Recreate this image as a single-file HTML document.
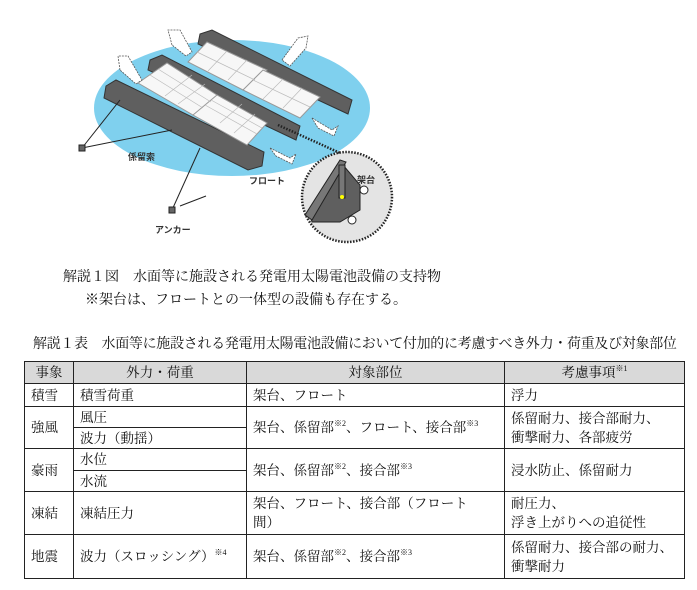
<!DOCTYPE html>
<html><head><meta charset="utf-8"><style>
body{margin:0;background:#fff;width:697px;height:590px;position:relative;overflow:hidden;font-family:"Liberation Serif","Noto Serif CJK JP","Noto Serif CJK SC",serif;color:#111}
.t{position:absolute;font-size:14px;white-space:nowrap}
table{position:absolute;left:24px;top:361px;width:660px;border-collapse:collapse;font-size:13.5px;table-layout:fixed}
td{border:1.3px solid #222;padding:0 4px 0 6px;line-height:19px;vertical-align:middle;white-space:nowrap;overflow:hidden}
th{border:1.3px solid #222;background:#d9d9d9;font-weight:normal;height:20px;line-height:19px;padding:0}
sup{font-size:8px;vertical-align:6px;line-height:0}
.sm{font-family:"Liberation Sans","Noto Sans CJK JP",sans-serif;font-size:9px;font-weight:bold;fill:#333}
</style></head><body>
<svg width="697" height="260" style="position:absolute;left:0;top:0">
<ellipse cx="232" cy="108" rx="138" ry="68" fill="#7fd0ee"/>
<g fill="#5f5f5f" stroke="#333" stroke-width="1">
<polygon points="106,86 116,80 264,152 262,166 248,170 104,98"/>
<polygon points="150,60 162,55 300,126 296,140 148,70"/>
<polygon points="200,34 212,30 352,100 348,114 198,44"/>
</g>
<g fill="#f7f7f7" stroke="#999" stroke-width="1">
<polygon points="138,83 167,63 220,97 193,115"/>
<polygon points="193,115 217,95 267,123 247,145"/>
<polygon points="188,62 207,42 267,70 243,90"/>
<polygon points="243,90 263,70 320,97 300,118"/>
</g>
<g stroke="#bbb" stroke-width="0.7">
<line x1="150" y1="75" x2="203" y2="108"/><line x1="158" y1="69" x2="211" y2="102"/>
<line x1="205" y1="105" x2="257" y2="134"/><line x1="211" y1="100" x2="262" y2="128"/>
<line x1="197" y1="52" x2="255" y2="80"/><line x1="253" y1="80" x2="310" y2="107"/>
<line x1="165" y1="96" x2="192" y2="75"/><line x1="178" y1="104" x2="205" y2="84"/>
<line x1="220" y1="123" x2="242" y2="104"/><line x1="234" y1="133" x2="255" y2="114"/>
<line x1="208" y1="71" x2="227" y2="51"/><line x1="228" y1="80" x2="247" y2="60"/>
<line x1="263" y1="99" x2="283" y2="79"/><line x1="283" y1="108" x2="302" y2="88"/>
</g>
<g fill="#fff" stroke="#555" stroke-width="0.8" stroke-dasharray="2,1">
<polygon points="120,70 118,56 128,56 142,80 136,84"/>
<polygon points="172,45 168,30 180,30 192,52 186,56"/>
<polygon points="282,60 298,38 308,36 306,48 290,66"/>
<polygon points="312,118 332,130 338,126 334,136 318,128"/>
<polygon points="270,148 290,158 296,154 292,164 276,156"/>
</g>
<g stroke="#222" stroke-width="1" fill="none">
<line x1="82" y1="148" x2="120" y2="100"/><line x1="82" y1="148" x2="172" y2="130"/>
<line x1="172" y1="210" x2="200" y2="148"/><line x1="180" y1="206" x2="206" y2="196"/>
</g>
<rect x="79" y="145" width="6" height="6" fill="#666" stroke="#222"/>
<rect x="169" y="207" width="6" height="6" fill="#666" stroke="#222"/>
<circle cx="347" cy="197" r="45" fill="#e4e4e4" stroke="#222" stroke-width="2.5" stroke-dasharray="1.5,1.5"/>
<line x1="278" y1="125" x2="340" y2="153" stroke="#222" stroke-width="2.5" stroke-dasharray="1.5,1.5"/>
<polygon points="310,215 343,165 360,185 360,210 340,222 312,222" fill="#5f5f5f" stroke="#222"/>
<polygon points="305,215 340,160 346,162 312,220" fill="#777" stroke="#222"/>
<rect x="339" y="165" width="6" height="33" fill="#777" stroke="#222"/>
<circle cx="342" cy="197" r="2" fill="#ff0"/>
<circle cx="364" cy="190" r="4" fill="#fff" stroke="#222"/>
<circle cx="352" cy="220" r="4" fill="#fff" stroke="#222"/>
<text x="128" y="160" class="sm">係留索</text>
<text x="249" y="184" class="sm">フロート</text>
<text x="155" y="233" class="sm">アンカー</text>
<text x="357" y="183" class="sm">架台</text>
</svg>
<div class="t" style="left:63px;top:266px">解説１図　水面等に施設される発電用太陽電池設備の支持物</div>
<div class="t" style="left:85px;top:289px">※架台は、フロートとの一体型の設備も存在する。</div>
<div class="t" style="left:33px;top:333px;letter-spacing:-0.3px">解説１表　水面等に施設される発電用太陽電池設備において付加的に考慮すべき外力・荷重及び対象部位</div>
<table>
<colgroup><col style="width:49px"><col style="width:173px"><col style="width:258px"><col style="width:180px"></colgroup>
<tr style="height:22px"><th>事象</th><th>外力・荷重</th><th>対象部位</th><th>考慮事項<sup>※1</sup></th></tr>
<tr style="height:23px"><td>積雪</td><td>積雪荷重</td><td>架台、フロート</td><td>浮力</td></tr>
<tr style="height:21px"><td rowspan="2">強風</td><td>風圧</td><td rowspan="2">架台、係留部<sup>※2</sup>、フロート、接合部<sup>※3</sup></td><td rowspan="2">係留耐力、接合部耐力、<br>衝撃耐力、各部疲労</td></tr>
<tr style="height:21px"><td>波力（動揺）</td></tr>
<tr style="height:22px"><td rowspan="2">豪雨</td><td>水位</td><td rowspan="2">架台、係留部<sup>※2</sup>、接合部<sup>※3</sup></td><td rowspan="2">浸水防止、係留耐力</td></tr>
<tr style="height:21px"><td>水流</td></tr>
<tr style="height:43px"><td>凍結</td><td>凍結圧力</td><td>架台、フロート、接合部（フロート<br>間）</td><td>耐圧力、<br>浮き上がりへの追従性</td></tr>
<tr style="height:44px"><td>地震</td><td>波力（スロッシング）<sup>※4</sup></td><td>架台、係留部<sup>※2</sup>、接合部<sup>※3</sup></td><td>係留耐力、接合部の耐力、<br>衝撃耐力</td></tr>
</table>
</body></html>
